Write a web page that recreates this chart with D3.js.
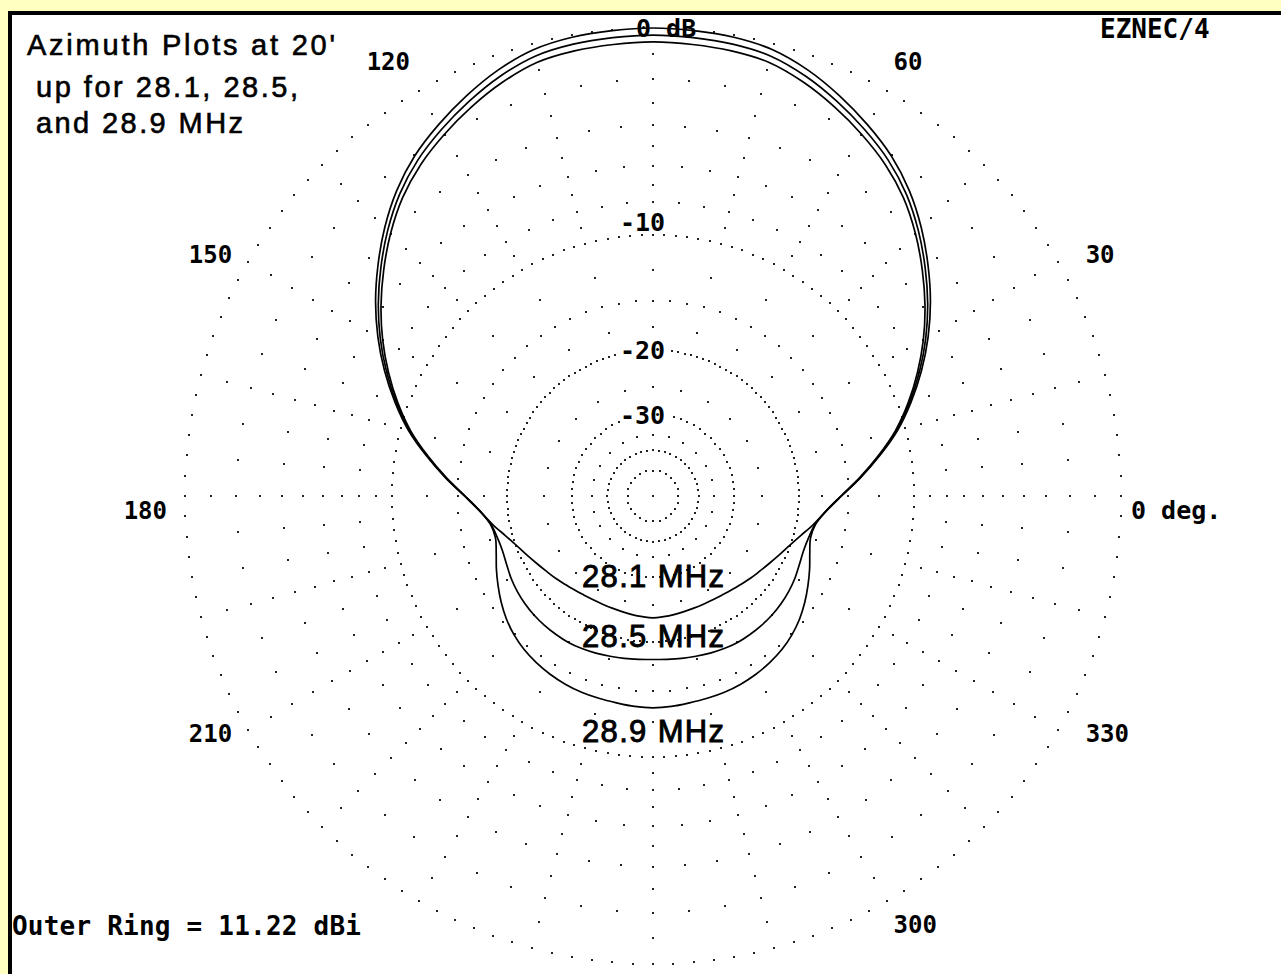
<!DOCTYPE html>
<html>
<head>
<meta charset="utf-8">
<script src="https://cdn.jsdelivr.net/npm/d3@7"></script>
<style>
  html, body { margin: 0; padding: 0; background: #FFFFC0; }
  svg { display: block; }
  .mono { font-family: "DejaVu Sans Mono", monospace; font-weight: bold; fill: #000; }
  .sans { font-family: "Liberation Sans", Arial, sans-serif; fill: #000; stroke: #000; stroke-width: 0.6px; }
  .freq { stroke-width: 0.9px; }
</style>
</head>
<body>
<svg id="chart" width="1281" height="974"></svg>
<script>
// ========== DATA ==========
// azimuth in degrees, 0 = "0 deg." (right), counter-clockwise
const azimuths = [
  0, 5, 10, 15, 20, 25, 30, 35, 40, 45, 50, 55, 60, 65, 70, 75, 80, 85,
  90, 95, 100, 105, 110, 115, 120, 125, 130, 135, 140, 145, 150, 155, 160, 165, 170, 175,
  180, 185, 190, 195, 200, 205, 210, 215, 220, 225, 230, 235, 240, 245, 250, 255, 260, 265,
  270, 275, 280, 285, 290, 295, 300, 305, 310, 315, 320, 325, 330, 335, 340, 345, 350, 355
];

// gain in dB relative to the outer ring (11.22 dBi)
const gain281 = [
  -15.6, -13.9, -12.2, -10.55, -9.15, -7.85, -6.65, -5.55, -4.55, -3.6, -2.75, -2.05, -1.5, -1.0, -0.55, -0.22, -0.08, -0.03,
  0.0, -0.03, -0.08, -0.22, -0.55, -1.0, -1.5, -2.05, -2.75, -3.6, -4.55, -5.55, -6.65, -7.85, -9.15, -10.55, -12.2, -13.9,
  -15.6, -17.0, -18.1, -19.2, -20.1, -20.8, -21.4, -21.9, -22.3, -22.7, -23.0, -23.25, -23.4, -23.45, -23.45, -23.4, -23.3, -23.2,
  -23.1, -23.2, -23.3, -23.4, -23.45, -23.45, -23.4, -23.25, -23.0, -22.7, -22.3, -21.9, -21.4, -20.8, -20.1, -19.2, -18.1, -17.0
];
const gain285 = [
  -15.63, -13.94, -12.26, -10.63, -9.25, -7.98, -6.8, -5.72, -4.73, -3.79, -2.95, -2.27, -1.73, -1.24, -0.8, -0.47, -0.34, -0.29,
  -0.26, -0.29, -0.34, -0.47, -0.8, -1.24, -1.73, -2.27, -2.95, -3.79, -4.73, -5.72, -6.8, -7.98, -9.25, -10.63, -12.26, -13.94,
  -15.63, -17.01, -17.95, -18.3, -18.4, -18.25, -18.0, -17.8, -17.65, -17.55, -17.5, -17.48, -17.47, -17.55, -17.67, -17.8, -17.9, -18.0,
  -18.05, -18.0, -17.9, -17.8, -17.67, -17.55, -17.47, -17.48, -17.5, -17.55, -17.65, -17.8, -18.0, -18.25, -18.4, -18.3, -17.95, -17.01
];
const gain289 = [
  -15.66, -13.98, -12.32, -10.71, -9.35, -8.11, -6.95, -5.89, -4.91, -3.98, -3.15, -2.49, -1.96, -1.48, -1.05, -0.72, -0.6, -0.55,
  -0.52, -0.55, -0.6, -0.72, -1.05, -1.48, -1.96, -2.49, -3.15, -3.98, -4.91, -5.89, -6.95, -8.11, -9.35, -10.71, -12.32, -13.98,
  -15.66, -17.02, -17.9, -18.1, -17.7, -17.1, -16.5, -15.9, -15.35, -14.9, -14.55, -14.3, -14.1, -13.95, -13.85, -13.8, -13.75, -13.65,
  -13.6, -13.65, -13.75, -13.8, -13.85, -13.95, -14.1, -14.3, -14.55, -14.9, -15.35, -15.9, -16.5, -17.1, -17.7, -18.1, -17.9, -17.02
];

const freqLabels = ["28.1 MHz", "28.5 MHz", "28.9 MHz"];

// dotted grid rings (dB) and the angular spacing of their dots (deg)
const ringLevels = [0, -1, -2, -3, -4, -5, -6, -7, -8, -9, -10, -12.5, -15, -17.5, -20, -25, -30, -35, -40, -50];
const ringDotStep = [2.5, 15, 5, 15, 5, 15, 5, 15, 5, 15, 2.5, 15, 5, 15, 2.5, 15, 5, 15, 7.5, 15];

const dbLabelLevels = [0, -10, -20, -30];
const dbLabelTexts = ["0 dB", "-10", "-20", "-30"];

const tickAngles = [0, 30, 60, 120, 150, 180, 210, 300, 330];
const tickLabels = ["0 deg.", "30", "60", "120", "150", "180", "210", "300", "330"];

const titleLines = ["Azimuth Plots at 20'", "up for 28.1, 28.5,", "and 28.9 MHz"];

// ========== LAYOUT ==========
const W = 1281, H = 974;
const cx = 653, cy = 496, R = 468;

const svg = d3.select("#chart");

// ARRL log scale: radius ~ (field strength)^0.506, field = 10^(dB/20)
const rScale = d3.scalePow().exponent(0.5061).domain([0, 1]).range([0, R]);
const rOf = dB => rScale(Math.pow(10, dB / 20));
const toRad = deg => (90 - deg) * Math.PI / 180; // d3 radial angle: clockwise from north

// panel: black top/left edge, white plot area
svg.append("rect").attr("x", 8).attr("y", 11).attr("width", W).attr("height", H).attr("fill", "#000");
svg.append("rect").attr("x", 12).attr("y", 15).attr("width", W).attr("height", H).attr("fill", "#fff");

const plot = svg.append("g").attr("transform", `translate(${cx},${cy})`);

// ========== GRID ==========
const dots = [];
ringLevels.forEach((lvl, i) => {
  const step = ringDotStep[i];
  for (let a = 0; a < 360 - 1e-6; a += step) {
    dots.push(d3.pointRadial(toRad(a), rOf(lvl)));
  }
});
dots.push([0, 0]);

plot.append("g")
  .selectAll("rect")
  .data(dots)
  .join("rect")
  .attr("x", d => Math.round(d[0]) - 1)
  .attr("y", d => Math.round(d[1]) - 1)
  .attr("width", 2)
  .attr("height", 2)
  .attr("fill", "#222");

// ========== dB LABELS (white boxes knock out the dots) ==========
const dbGroup = plot.append("g");
dbLabelLevels.forEach((lvl, i) => {
  const yc = -rOf(lvl) - (lvl === -10 ? 13 : 0);
  const x0 = -33;
  const txt = dbLabelTexts[i];
  const w = lvl === 0 ? 82 : 50;
  dbGroup.append("rect")
    .attr("x", x0).attr("y", yc - 11)
    .attr("width", w).attr("height", 22)
    .attr("fill", "#fff");
  dbGroup.append("text")
    .attr("class", "mono")
    .attr("x", txt.startsWith("-") ? x0 : x0 + 16)
    .attr("y", yc + 9)
    .attr("font-size", 25)
    .text(txt);
});

// ========== PATTERN CURVES ==========
const series = [gain281, gain285, gain289];
const line = d3.lineRadial()
  .angle(d => toRad(d[0]))
  .radius(d => rOf(d[1]))
  .curve(d3.curveCatmullRomClosed.alpha(0.5));

plot.append("g")
  .selectAll("path")
  .data(series)
  .join("path")
  .attr("d", s => line(azimuths.map((a, i) => [a, s[i]])))
  .attr("fill", "none")
  .attr("stroke", "#000")
  .attr("stroke-width", 1.7);

// ========== ANGLE LABELS ==========
tickAngles.forEach((a, i) => {
  const rad = a * Math.PI / 180;
  const c = Math.cos(rad), s = Math.sin(rad);
  let x, base;
  if (a === 0) x = cx + 478;
  else if (c < 0) x = cx + 486 * c;   // left side: right-aligned
  else x = cx - 22 + 525 * c;         // right side: left-aligned
  if (s > 0.01) base = cy + 29 - 525 * s;
  else if (s < -0.01) base = cy - 15 - 522 * s;
  else base = cy + 23;
  svg.append("text")
    .attr("class", "mono")
    .attr("x", x)
    .attr("y", base)
    .attr("font-size", a === 0 ? 25 : 24)
    .attr("text-anchor", c < -0.01 ? "end" : "start")
    .text(tickLabels[i]);
});

// ========== FREQUENCY LABELS ==========
const freqBase = [587, 647, 742];
freqLabels.forEach((t, i) => {
  svg.append("text")
    .attr("class", "sans freq")
    .attr("x", cx)
    .attr("y", freqBase[i])
    .attr("font-size", 31)
    .attr("text-anchor", "middle")
    .attr("textLength", 142)
    .attr("lengthAdjust", "spacing")
    .text(t);
});

// ========== TITLE AND NOTES ==========
const titleX = [27, 36, 36];
const titleY = [55, 97, 133];
const titleLen = [308, 262, 207];
titleLines.forEach((t, i) => {
  svg.append("text")
    .attr("class", "sans")
    .attr("x", titleX[i])
    .attr("y", titleY[i])
    .attr("font-size", 29)
    .attr("textLength", titleLen[i])
    .attr("lengthAdjust", "spacing")
    .text(t);
});

svg.append("text")
  .attr("class", "mono")
  .attr("x", 1100).attr("y", 38)
  .attr("font-size", 26)
  .text("EZNEC/4");

svg.append("text")
  .attr("class", "mono")
  .attr("x", 12).attr("y", 935)
  .attr("font-size", 26)
  .attr("textLength", 349)
  .text("Outer Ring = 11.22 dBi");
</script>
</body>
</html>
